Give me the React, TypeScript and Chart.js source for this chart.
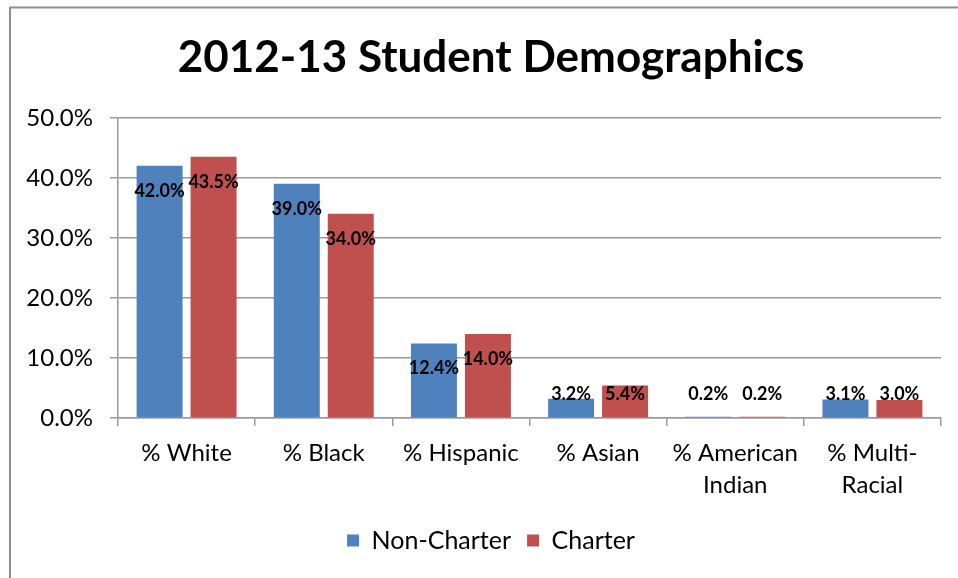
import React, { useEffect, useRef } from "react";
import { Chart, registerables } from "chart.js";

Chart.register(...registerables);

const chartTitle = "2012-13 Student Demographics";
const categories: string[][] = [
  ["% White"],
  ["% Black"],
  ["% Hispanic"],
  ["% Asian"],
  ["% American", "Indian"],
  ["% Multi-", "Racial"],
];
const seriesNames = ["Non-Charter", "Charter"];
const nonCharter = [42.0, 39.0, 12.4, 3.2, 0.2, 3.1];
const charter = [43.5, 34.0, 14.0, 5.4, 0.2, 3.0];
const yMin = 0;
const yMax = 50;
const yStep = 10;

const FONT = "Lato, 'Liberation Sans', sans-serif";
const BLUE = "#4F81BD";
const RED = "#C0504D";
const GRID = "#9a9a9a";

const framePlugin = {
  id: "frame",
  beforeDraw(chart: any) {
    const { ctx, width, height } = chart;
    ctx.save();
    ctx.fillStyle = "#ffffff";
    ctx.fillRect(0, 0, width, height);
    ctx.strokeStyle = "#8c8c8c";
    ctx.lineWidth = 2;
    ctx.beginPath();
    ctx.moveTo(10, height + 5);
    ctx.lineTo(10, 7.5);
    ctx.lineTo(width + 5, 7.5);
    ctx.stroke();
    ctx.restore();
  },
};

const labelPlugin = {
  id: "barLabels",
  afterDatasetsDraw(chart: any) {
    const { ctx } = chart;
    const yScale = chart.scales.y;
    const zeroY = yScale.getPixelForValue(0);
    ctx.save();
    ctx.font = `bold 18px ${FONT}`;
    ctx.fillStyle = "#000";
    ctx.textAlign = "center";
    ctx.textBaseline = "middle";
    chart.data.datasets.forEach((ds: any, di: number) => {
      const meta = chart.getDatasetMeta(di);
      meta.data.forEach((bar: any, i: number) => {
        const v = ds.data[i] as number;
        const y = Math.min(bar.y + 25, zeroY - 24);
        ctx.fillText(v.toFixed(1) + "%", bar.x, y);
      });
    });
    ctx.restore();
  },
};

export default function App() {
  const ref = useRef<HTMLCanvasElement>(null);
  useEffect(() => {
    if (!ref.current) return;
    const chart = new Chart(ref.current, {
      type: "bar",
      data: {
        labels: categories,
        datasets: [
          { label: seriesNames[0], data: nonCharter, backgroundColor: BLUE },
          { label: seriesNames[1], data: charter, backgroundColor: RED },
        ],
      },
      options: {
        responsive: false,
        animation: false,
        layout: { padding: { left: 0, right: -24, top: 0, bottom: 15 } },
        datasets: {
          bar: { categoryPercentage: 0.787, barPercentage: 0.852 },
        } as any,
        plugins: {
          title: {
            display: true,
            text: chartTitle,
            color: "#000",
            font: { family: FONT, size: 44, weight: "bold", lineHeight: 1.2 },
            padding: { top: 31, bottom: 34 },
          },
          legend: {
            display: true,
            position: "bottom",
            labels: {
              color: "#000",
              font: { family: FONT, size: 25 },
              boxWidth: 12,
              boxHeight: 12,
              padding: 16,
            },
          },
          tooltip: { enabled: false },
        },
        scales: {
          x: {
            afterFit(scale: any) {
              scale.height = 94;
            },
            grid: {
              display: true,
              drawOnChartArea: false,
              drawTicks: true,
              tickLength: 8,
              color: GRID,
              lineWidth: 1.5,
            },
            border: { display: true, color: GRID, width: 1.5 },
            ticks: {
              color: "#000",
              font: { family: FONT, size: 24, lineHeight: 1.333 },
              padding: 11,
              maxRotation: 0,
              autoSkip: false,
            },
          },
          y: {
            min: yMin,
            max: yMax,
            afterFit(scale: any) {
              scale.width = 118;
            },
            grid: {
              color: GRID,
              lineWidth: 1.5,
              tickLength: 8,
              drawTicks: true,
            },
            border: { display: true, color: GRID, width: 1.5 },
            ticks: {
              stepSize: yStep,
              color: "#000",
              padding: 17,
              font: { family: FONT, size: 24 },
              callback: (v: any) => Number(v).toFixed(1) + "%",
            },
          },
          ySpacer: {
            type: "linear",
            position: "right",
            display: true,
            min: yMin,
            max: yMax,
            afterFit(scale: any) {
              scale.width = 41;
            },
            grid: { display: false },
            border: { display: false },
            ticks: { display: false },
          },
        },
      },
      plugins: [framePlugin, labelPlugin],
    });
    return () => chart.destroy();
  }, []);
  return (
    <div style={{ position: "fixed", left: 0, top: 0, width: 958, height: 578, background: "#fff" }}>
      <canvas ref={ref} width={958} height={578} style={{ display: "block" }} />
    </div>
  );
}
